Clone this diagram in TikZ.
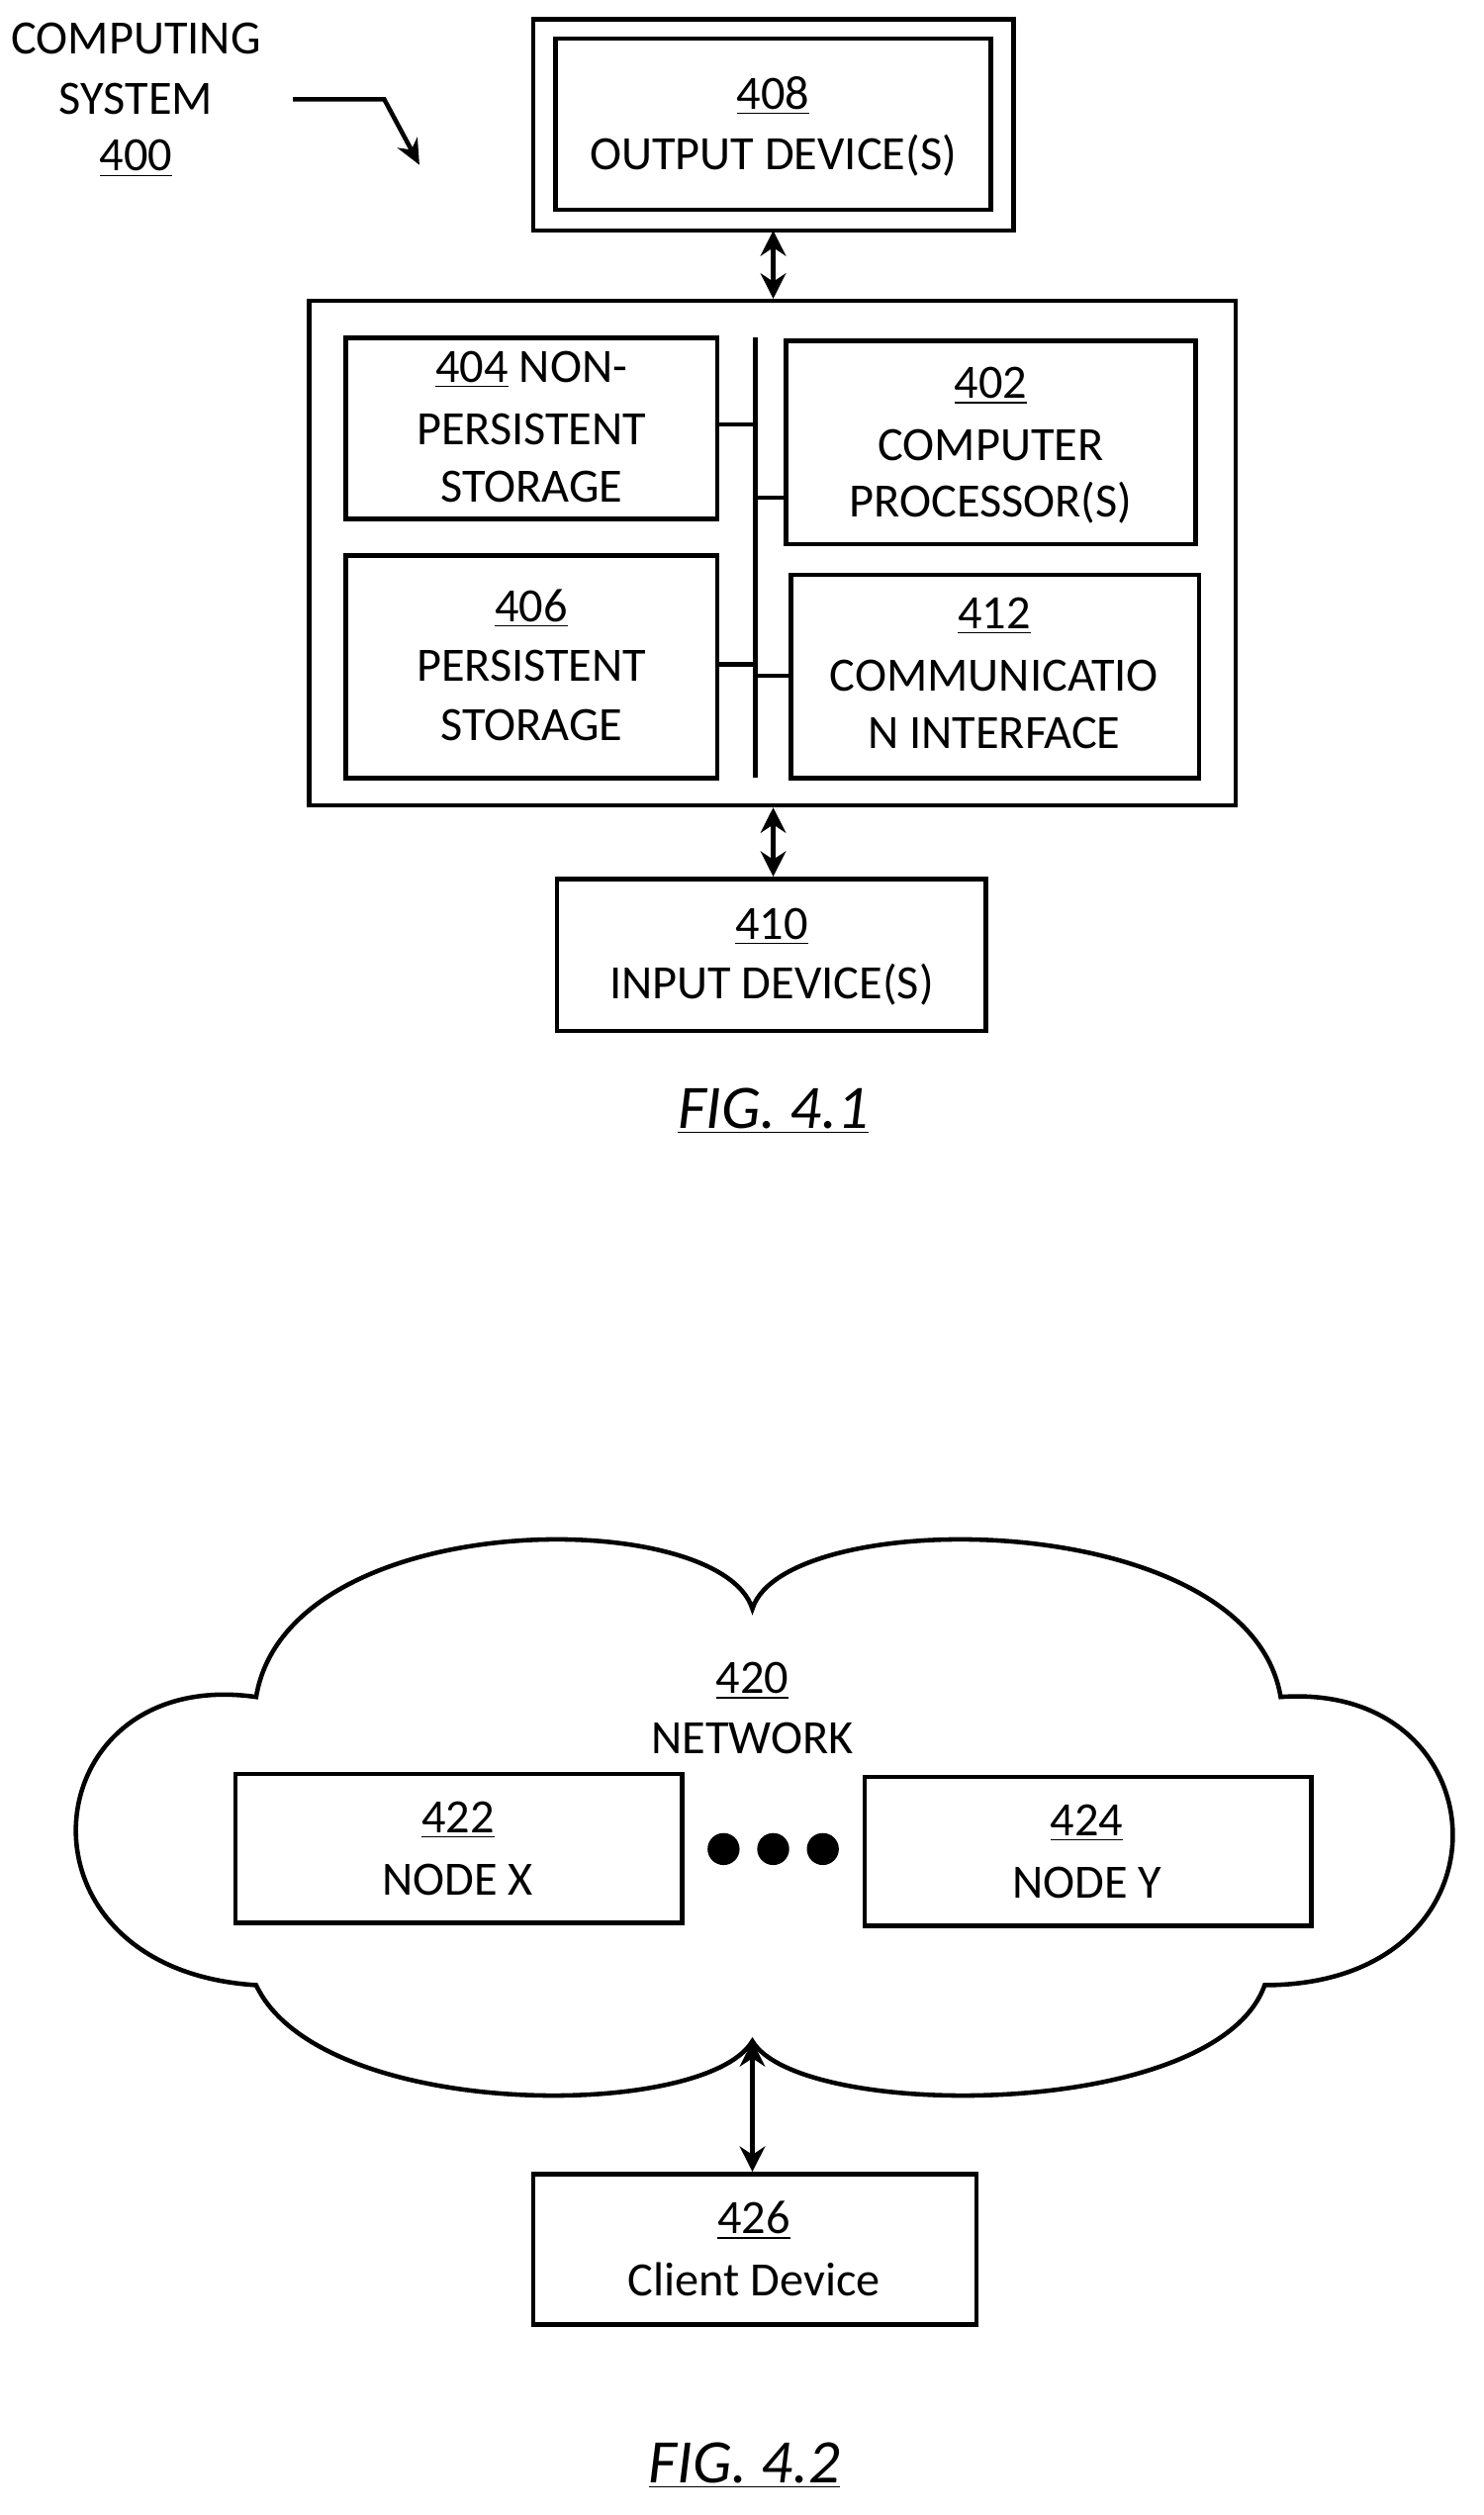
\documentclass[tikz,border=0pt]{standalone}
\usepackage{fontspec}
\setmainfont{Carlito}
\usetikzlibrary{arrows.meta}
\begin{document}
\begin{tikzpicture}[x=0.02cm,y=-0.02cm,line width=1.6pt,
 box/.style={draw,line width=1.6pt},
 txt/.style={font=\fontsize{17}{20}\selectfont,align=center,inner sep=0pt},
 dbl/.style={{Stealth[length=9pt,width=9pt]}-{Stealth[length=9pt,width=9pt]}},
 fig/.style={font=\fontsize{22}{26}\selectfont\itshape,inner sep=0pt}]
\useasboundingbox (0,0) rectangle (927,1571);
% title
\node[txt] (t1) at (85,24) {COMPUTING};
\node[txt] (t2) at (85,62) {SYSTEM};
\node[txt] (t3) at (85,99) {\underline{400}};
\coordinate (a0) at (183,62); \coordinate (a1) at (240,62); \coordinate (a2) at (262,103);
\draw[-{Stealth[length=9pt,width=8pt]}] (a0) -- (a1) -- (a2);
% output
\draw[box] (333,12) rectangle (633,144);
\node[box,minimum width=272*0.02cm,minimum height=107*0.02cm] (out) at (483,77.5) {};
\node[txt] at (483,60) {\underline{408}};
\node[txt] at (483,97) {OUTPUT DEVICE(S)};
% main box
\node[box,minimum width=579*0.02cm,minimum height=315*0.02cm,inner sep=0] (main) at (482.5,345.5) {};
\draw[dbl] (483,144) -- (main.north -| 483,0);
\node[box,minimum width=232*0.02cm,minimum height=113*0.02cm,inner sep=0] (n404) at (332,267.5) {};
\node[txt] at (332,231) {\underline{404} NON-};
\node[txt] at (332,268) {PERSISTENT};
\node[txt] at (332,304) {STORAGE};
\node[box,minimum width=232*0.02cm,minimum height=139*0.02cm,inner sep=0] (n406) at (332,416.5) {};
\node[txt] at (332,380) {\underline{406}};
\node[txt] at (332,416) {PERSISTENT};
\node[txt] at (332,453) {STORAGE};
\node[box,minimum width=256*0.02cm,minimum height=127*0.02cm,inner sep=0] (n402) at (619,276.5) {};
\node[txt] at (619,241) {\underline{402}};
\node[txt] at (619,278) {COMPUTER};
\node[txt] at (619,314) {PROCESSOR(S)};
\node[box,minimum width=255*0.02cm,minimum height=127*0.02cm,inner sep=0] (n412) at (621.5,422.5) {};
\node[txt] at (621,385) {\underline{412}};
\node[txt] at (621,422) {COMMUNICATIO};
\node[txt] at (621,458) {N INTERFACE};
\coordinate (bt) at (472,211); \coordinate (bb) at (472,486);
\draw (bt) -- (bb);
\draw (n404.east |- 0,265) -- (472,265);
\draw (472,311) -- (n402.west |- 0,311);
\draw (n406.east |- 0,415) -- (472,415);
\draw (472,422) -- (n412.west |- 0,422);
% input
\node[box,minimum width=268*0.02cm,minimum height=95*0.02cm,inner sep=0] (in) at (482,596.5) {};
\node[txt] at (482,579) {\underline{410}};
\node[txt] at (482,615) {INPUT DEVICE(S)};
\draw[dbl] (main.south -| 483,0) -- (in.north -| 483,0);
\node[fig] (f1) at (483,694) {\underline{FIG. 4.1}};
% cloud
\draw (160,1060) .. controls (20,1040) and (0,1230) .. (160,1240)
 .. controls (200,1325) and (440,1325) .. (470,1275)
 .. controls (500,1325) and (760,1325) .. (790,1240)
 .. controls (950,1240) and (940,1050) .. (800,1060)
 .. controls (780,940) and (490,940) .. (470,1005)
 .. controls (450,940) and (180,940) .. (160,1060) -- cycle;
\coordinate (cb) at (470,1275);
\node[txt] at (470,1050) {\underline{420}};
\node[txt] at (470,1086) {NETWORK};
\node[box,minimum width=279*0.02cm,minimum height=93*0.02cm,inner sep=0] (nx) at (286.5,1154.5) {};
\node[txt] at (286,1137) {\underline{422}};
\node[txt] at (286,1174) {NODE X};
\node[box,minimum width=279*0.02cm,minimum height=93*0.02cm,inner sep=0] (ny) at (679.5,1156.5) {};
\node[txt] at (679,1139) {\underline{424}};
\node[txt] at (679,1176) {NODE Y};
\fill (452,1155) circle (10) (483,1155) circle (10) (514,1155) circle (10);
\node[box,minimum width=277*0.02cm,minimum height=94*0.02cm,inner sep=0] (cl) at (471.5,1405) {};
\node[txt] at (471,1387) {\underline{426}};
\node[txt] at (471,1424) {Client Device};
\draw[dbl] (cb) -- (cl.north -| cb);
\node[fig] (f2) at (465,1540) {\underline{FIG. 4.2}};
\end{tikzpicture}
\end{document}
